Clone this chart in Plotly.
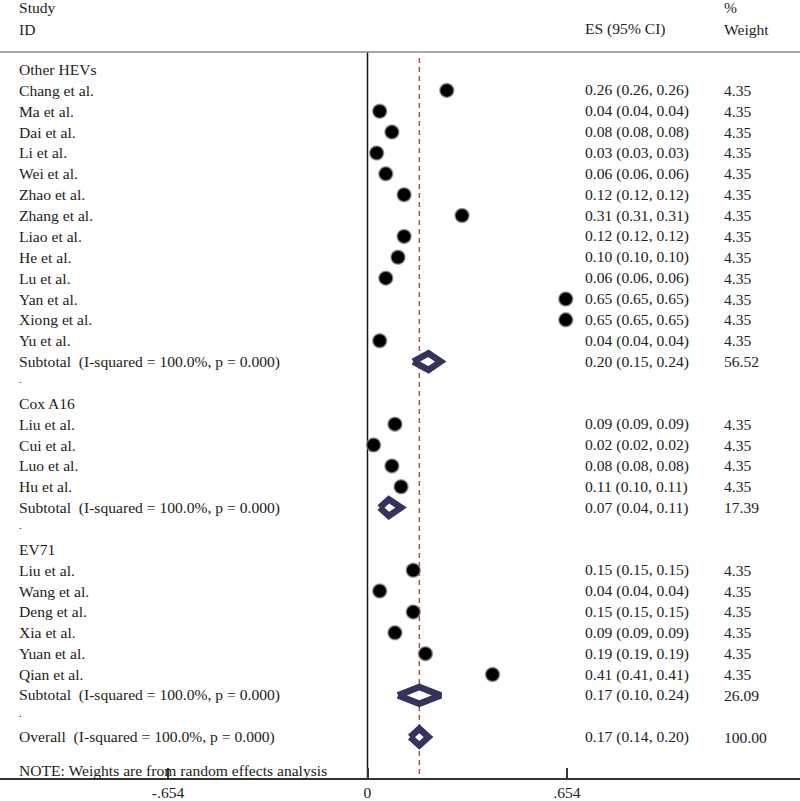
import plotly.graph_objects as go

# ---------------- data ----------------
group_names = ["Other HEVs", "Cox A16", "EV71"]

hev_studies = ["Chang et al.", "Ma et al.", "Dai et al.", "Li et al.", "Wei et al.", "Zhao et al.",
               "Zhang et al.", "Liao et al.", "He et al.", "Lu et al.", "Yan et al.", "Xiong et al.", "Yu et al."]
hev_es = [0.26, 0.04, 0.08, 0.03, 0.06, 0.12, 0.31, 0.12, 0.10, 0.06, 0.65, 0.65, 0.04]
hev_lo = [0.26, 0.04, 0.08, 0.03, 0.06, 0.12, 0.31, 0.12, 0.10, 0.06, 0.65, 0.65, 0.04]
hev_hi = [0.26, 0.04, 0.08, 0.03, 0.06, 0.12, 0.31, 0.12, 0.10, 0.06, 0.65, 0.65, 0.04]
hev_w = [4.35] * 13

cox_studies = ["Liu et al.", "Cui et al.", "Luo et al.", "Hu et al."]
cox_es = [0.09, 0.02, 0.08, 0.11]
cox_lo = [0.09, 0.02, 0.08, 0.10]
cox_hi = [0.09, 0.02, 0.08, 0.11]
cox_w = [4.35] * 4

ev_studies = ["Liu et al.", "Wang et al.", "Deng et al.", "Xia et al.", "Yuan et al.", "Qian et al."]
ev_es = [0.15, 0.04, 0.15, 0.09, 0.19, 0.41]
ev_lo = [0.15, 0.04, 0.15, 0.09, 0.19, 0.41]
ev_hi = [0.15, 0.04, 0.15, 0.09, 0.19, 0.41]
ev_w = [4.35] * 6

subtotal_es = [0.20, 0.07, 0.17]
subtotal_lo = [0.15, 0.04, 0.10]
subtotal_hi = [0.24, 0.11, 0.24]
subtotal_w = [56.52, 17.39, 26.09]
subtotal_label = "Subtotal  (I-squared = 100.0%, p = 0.000)"

overall_es = 0.17
overall_lo = 0.14
overall_hi = 0.20
overall_w = 100.00
overall_label = "Overall  (I-squared = 100.0%, p = 0.000)"
note_label = "NOTE: Weights are from random effects analysis"

tick_vals = [-0.654, 0, 0.654]
tick_text = ["-.654", "0", ".654"]

# ---------------- styling ----------------
FONT = "Liberation Serif"
FS = 15.6
TXT = "#231c18"
NAVY = "#33335e"
RED = "#b0503c"
X_LABEL = -1.150
X_ES = 0.7060
X_W = 1.1630

groups = [
    (hev_studies, hev_es, hev_lo, hev_hi, hev_w),
    (cox_studies, cox_es, cox_lo, cox_hi, cox_w),
    (ev_studies, ev_es, ev_lo, ev_hi, ev_w),
]

fig = go.Figure()
ann = []


def txt(x, y, s, size=FS):
    ann.append(dict(x=x, y=y, xref="x", yref="y", text=s, showarrow=False,
                    xanchor="left", yanchor="middle",
                    font=dict(family=FONT, size=size, color=TXT)))


def fmt(es, lo, hi):
    return f"{es:.2f} ({lo:.2f}, {hi:.2f})"


pt_x, pt_y = [], []
diamonds = []
row = 0
for gi, (names, es, lo, hi, w) in enumerate(groups):
    txt(X_LABEL, row, group_names[gi])
    row += 1
    for n, e, l, h, ww in zip(names, es, lo, hi, w):
        txt(X_LABEL, row, n)
        txt(X_ES, row, fmt(e, l, h))
        txt(X_W, row, f"{ww:.2f}")
        pt_x.append(e)
        pt_y.append(row)
        row += 1
    txt(X_LABEL, row, subtotal_label)
    txt(X_ES, row, fmt(subtotal_es[gi], subtotal_lo[gi], subtotal_hi[gi]))
    txt(X_W, row, f"{subtotal_w[gi]:.2f}")
    diamonds.append((subtotal_es[gi], subtotal_lo[gi], subtotal_hi[gi], row))
    row += 1
    txt(X_LABEL, row - 0.15, ".", size=11)
    row += 1

overall_row = row
txt(X_LABEL, overall_row, overall_label)
txt(X_ES, overall_row, fmt(overall_es, overall_lo, overall_hi))
txt(X_W, overall_row, f"{overall_w:.2f}")
diamonds.append((overall_es, overall_lo, overall_hi, overall_row))
note_row = overall_row + 1.58
txt(X_LABEL, note_row, note_label)

# header
txt(X_LABEL, -2.95, "Study")
txt(X_LABEL, -1.94, "ID")
txt(X_ES, -1.94, "ES (95% CI)")
txt(X_W, -2.95, "%")
txt(X_W, -1.94, "Weight")

Y_TOP = -3.332
Y_BOT = 33.96

# reference lines
fig.add_trace(go.Scatter(x=[0, 0], y=[-0.84, Y_BOT], mode="lines",
                         line=dict(color="#111111", width=1.5), hoverinfo="skip", showlegend=False))
fig.add_trace(go.Scatter(x=[overall_es, overall_es], y=[-0.55, Y_BOT], mode="lines",
                         line=dict(color=RED, width=1.5, dash="5px,4px"), hoverinfo="skip", showlegend=False))

# diamonds
for e, l, h, r in diamonds:
    hh = 0.4
    fig.add_trace(go.Scatter(x=[l, e, h, e, l], y=[r, r - hh, r, r + hh, r], mode="lines",
                             fill="toself", fillcolor="white",
                             line=dict(color=NAVY, width=6.5), hoverinfo="skip", showlegend=False))

# study points
fig.add_trace(go.Scatter(x=pt_x, y=pt_y, mode="markers",
                         marker=dict(size=14, color="black",
                                     line=dict(color="rgba(140,140,140,0.75)", width=1.5)),
                         hoverinfo="skip", showlegend=False))

# header separator line
fig.add_shape(type="line", xref="paper", yref="y", x0=0, x1=1, y0=-0.84, y1=-0.84,
              line=dict(color="#8a8a8a", width=1.5))

fig.update_layout(
    width=800, height=801,
    margin=dict(l=0, r=0, t=0, b=23),
    paper_bgcolor="white", plot_bgcolor="white",
    annotations=ann,
    showlegend=False,
    font=dict(family=FONT, size=FS, color=TXT),
)
fig.update_xaxes(range=[-1.2049, 1.418], showgrid=False, zeroline=False,
                 showline=True, linecolor="#333333", linewidth=1.5,
                 ticks="inside", ticklen=10, tickwidth=1.5, tickcolor="#333333",
                 tickvals=tick_vals, ticktext=tick_text, automargin=False,
                 tickfont=dict(family=FONT, size=FS, color=TXT))
fig.update_yaxes(range=[Y_BOT, Y_TOP], showgrid=False, zeroline=False, showline=False,
                 showticklabels=False, ticks="", automargin=False)

fig.write_html("out.html", config={"displayModeBar": False},
               post_script="document.body.style.margin='0';")
